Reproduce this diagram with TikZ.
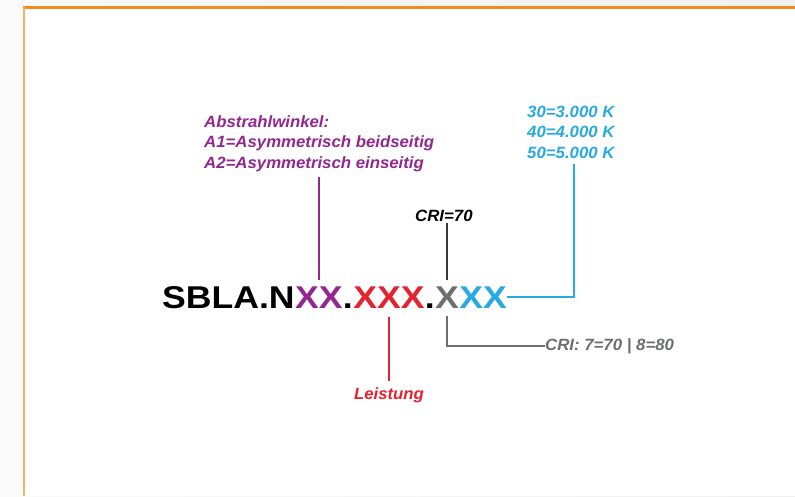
\documentclass[tikz,border=0pt]{standalone}
\usepackage{fontspec}
\setmainfont{Liberation Sans}
\newfontfamily\bigfont[FakeStretch=1.13]{Liberation Sans}
\newfontfamily\smallfont[FakeStretch=1.03]{Liberation Sans}
\definecolor{cpurple}{HTML}{93278F}
\definecolor{cred}{HTML}{E52230}
\definecolor{cgray}{HTML}{6D6E71}
\definecolor{cblue}{HTML}{29A9E1}
\definecolor{cdark}{HTML}{3A3A3A}
\definecolor{otop}{HTML}{F28A1E}
\definecolor{oleft}{HTML}{FBB063}
\begin{document}
\begin{tikzpicture}[x=1pt,y=-1pt,
  big/.style={inner sep=0pt, anchor=base west, font=\bigfont\bfseries\fontsize{31.5}{36}\selectfont},
  lbl/.style={inner sep=0pt, font=\smallfont\bfseries\itshape\fontsize{16.3}{20.5}\selectfont, align=left},
  conn/.style={line width=2pt}]
\useasboundingbox (0,0) rectangle (795,496);
% page background
\shade[left color=black!2, right color=black!6] (0,0) rectangle (795,496);
\fill[white] (23,7) rectangle (795,496);
\fill[otop] (23,6.3) rectangle (795,8.6);
\fill[oleft] (23,7) rectangle (25.2,496);
% main code
\node[big] (s1) at (162,308) {SBLA.N};
\node[big, text=cpurple] (s2) at (s1.base east) {XX};
\node[big] (d1) at (s2.base east) {.};
\node[big, text=cred] (s3) at (d1.base east) {XXX};
\node[big] (d2) at (s3.base east) {.};
\node[big, text=cgray] (s4) at (d2.base east) {X};
\node[big, text=cblue] (s5) at (s4.base east) {XX};
% labels
\node[lbl, text=cpurple, anchor=north west] (pl) at (204,115)
  {Abstrahlwinkel:\\A1=Asymmetrisch beidseitig\\A2=Asymmetrisch einseitig};
\node[lbl, text=cblue, anchor=north west] (bl) at (527,105.5)
  {30=3.000 K\\40=4.000 K\\50=5.000 K};
\node[lbl, anchor=base west] (cri) at (415,221) {CRI=70};
\node[lbl, text=cgray, anchor=base west] (cri2) at (545,350) {CRI: 7=70 | 8=80};
\node[lbl, text=cred, anchor=base] (leist) at (389,399) {Leistung};
\coordinate (bc) at (574,297);
% connectors
\draw[conn, cpurple, shorten >=5pt] ([yshift=28pt]s2.base) -- (s2.base |- pl.south);
\draw[conn, cdark, shorten >=2pt] ([yshift=28pt]s4.base) -- (s4.base |- cri.south);
\draw[conn, cred, shorten >=6pt] ([yshift=-9pt]s3.base) -- (s3.base |- leist.north);
\draw[conn, cgray] ([yshift=-8pt]s4.base) |- (cri2.west);
\draw[conn, cblue, shorten >=6pt] ([yshift=11pt]s5.base east) -- (bc) -- (bc |- bl.south);
\end{tikzpicture}
\end{document}
